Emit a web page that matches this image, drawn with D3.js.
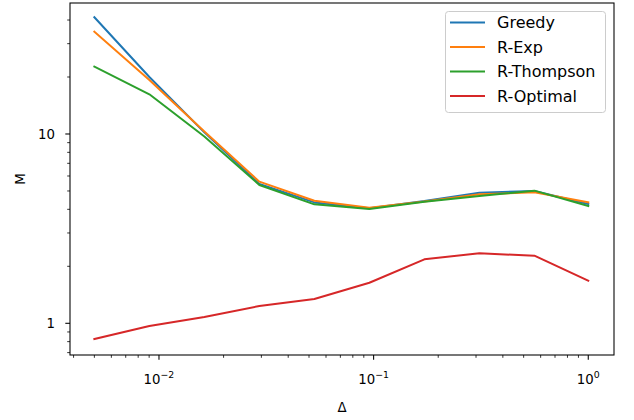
<!DOCTYPE html>
<html>
<head>
<meta charset="utf-8">
<script src="https://cdn.jsdelivr.net/npm/d3@7"></script>
<style>
  html, body { margin: 0; padding: 0; background: #fff; }
  svg { display: block; font-family: "DejaVu Sans", sans-serif; }
</style>
</head>
<body>
<svg id="chart" width="634" height="420"></svg>
<script>
// ---- data ----
const deltas = [0.005, 0.00902, 0.01627, 0.02935, 0.05296, 0.09554, 0.1724, 0.3110, 0.5610, 1.0];
const seriesNames = ["Greedy", "R-Exp", "R-Thompson", "R-Optimal"];
const greedy     = [41.4, 20.0, 10.2, 5.45, 4.35, 4.05, 4.42, 4.90, 5.00, 4.27];
const rExp       = [34.7, 19.3, 10.3, 5.60, 4.44, 4.08, 4.40, 4.80, 4.92, 4.36];
const rThompson  = [22.7, 16.2, 9.7, 5.38, 4.25, 4.02, 4.39, 4.70, 5.02, 4.17];
const rOptimal   = [0.826, 0.968, 1.08, 1.234, 1.344, 1.638, 2.178, 2.344, 2.275, 1.679];
const colors = ["#1f77b4", "#ff7f0e", "#2ca02c", "#d62728"];
const xMajorTicks = [0.01, 0.1, 1];
const xTickExponents = ["−2", "−1", "0"];
const yMajorTicks = [1, 10];
const yTickLabels = ["1", "10"];
const xLabel = "Δ";
const yLabel = "M";

const allSeries = [greedy, rExp, rThompson, rOptimal];

// ---- layout ----
const svg = d3.select("#chart");
const L = 70, R = 614, T = 3, B = 355;

const x = d3.scaleLog().domain([0.00385, 1.318]).range([L, R]);
const y = d3.scaleLog().domain([0.68, 49.2]).range([B, T]);

// minor ticks
function minorTicks(lo, hi) {
  const out = [];
  for (let e = Math.floor(Math.log10(lo)) ; e <= Math.ceil(Math.log10(hi)); e++) {
    for (let m = 2; m <= 9; m++) {
      const v = m * Math.pow(10, e);
      if (v >= lo && v <= hi) out.push(v);
    }
  }
  return out;
}
const xDom = x.domain(), yDom = y.domain();

const g = svg.append("g");

// lines
const line = d3.line().x((d, i) => x(deltas[i])).y(d => y(d));
allSeries.forEach((s, k) => {
  g.append("path")
    .attr("d", line(s))
    .attr("fill", "none")
    .attr("stroke", colors[k])
    .attr("stroke-width", 2)
    .attr("stroke-linejoin", "round")
    .attr("stroke-linecap", "square");
});

// clip overflow not needed; spines
const sp = svg.append("g").attr("stroke", "#000").attr("stroke-width", 1.07).attr("fill", "none");
sp.append("rect").attr("x", L).attr("y", T).attr("width", R - L).attr("height", B - T);

// x axis ticks
const tk = svg.append("g").attr("stroke", "#000").attr("stroke-width", 1.07);
xMajorTicks.forEach(v => {
  tk.append("line").attr("x1", x(v)).attr("x2", x(v)).attr("y1", B).attr("y2", B + 4.7);
});
minorTicks(xDom[0], xDom[1]).forEach(v => {
  tk.append("line").attr("x1", x(v)).attr("x2", x(v)).attr("y1", B).attr("y2", B + 2.8).attr("stroke-width", 0.8);
});
yMajorTicks.forEach(v => {
  tk.append("line").attr("y1", y(v)).attr("y2", y(v)).attr("x1", L).attr("x2", L - 4.7);
});
minorTicks(yDom[0], yDom[1]).forEach(v => {
  tk.append("line").attr("y1", y(v)).attr("y2", y(v)).attr("x1", L).attr("x2", L - 2.8).attr("stroke-width", 0.8);
});

// tick labels
const tl = svg.append("g").attr("fill", "#000").attr("font-size", "13.3px");
xMajorTicks.forEach((v, i) => {
  const t = tl.append("text").attr("x", x(v)).attr("y", 384).attr("text-anchor", "middle");
  t.append("tspan").text("10");
  t.append("tspan").attr("dy", "-0.6em").attr("font-size", "9.4px").text(xTickExponents[i]);
});
yMajorTicks.forEach((v, i) => {
  tl.append("text").attr("x", 55).attr("y", y(v)).attr("dy", "0.36em")
    .attr("text-anchor", "end").text(yTickLabels[i]);
});

// axis labels
svg.append("text").attr("x", (L + R) / 2).attr("y", 412).attr("text-anchor", "middle")
  .attr("font-size", "13.3px").text(xLabel);
svg.append("text").attr("transform", `translate(25,${(T + B) / 2}) rotate(-90)`)
  .attr("text-anchor", "middle").attr("font-size", "13.3px").text(yLabel);

// legend
const lg = svg.append("g");
lg.append("rect").attr("x", 445.5).attr("y", 11.5).attr("width", 160).attr("height", 101)
  .attr("rx", 3).attr("fill", "#fff").attr("fill-opacity", 0.8)
  .attr("stroke", "#cccccc").attr("stroke-width", 1);
seriesNames.forEach((n, k) => {
  const yy = 22.5 + k * 24.5;
  lg.append("line").attr("x1", 451).attr("x2", 484).attr("y1", yy).attr("y2", yy)
    .attr("stroke", colors[k]).attr("stroke-width", 2).attr("stroke-linecap", "square");
  lg.append("text").attr("x", 497).attr("y", yy).attr("dy", "0.36em")
    .attr("font-size", "16px").attr("fill", "#000").text(n);
});
</script>
</body>
</html>
